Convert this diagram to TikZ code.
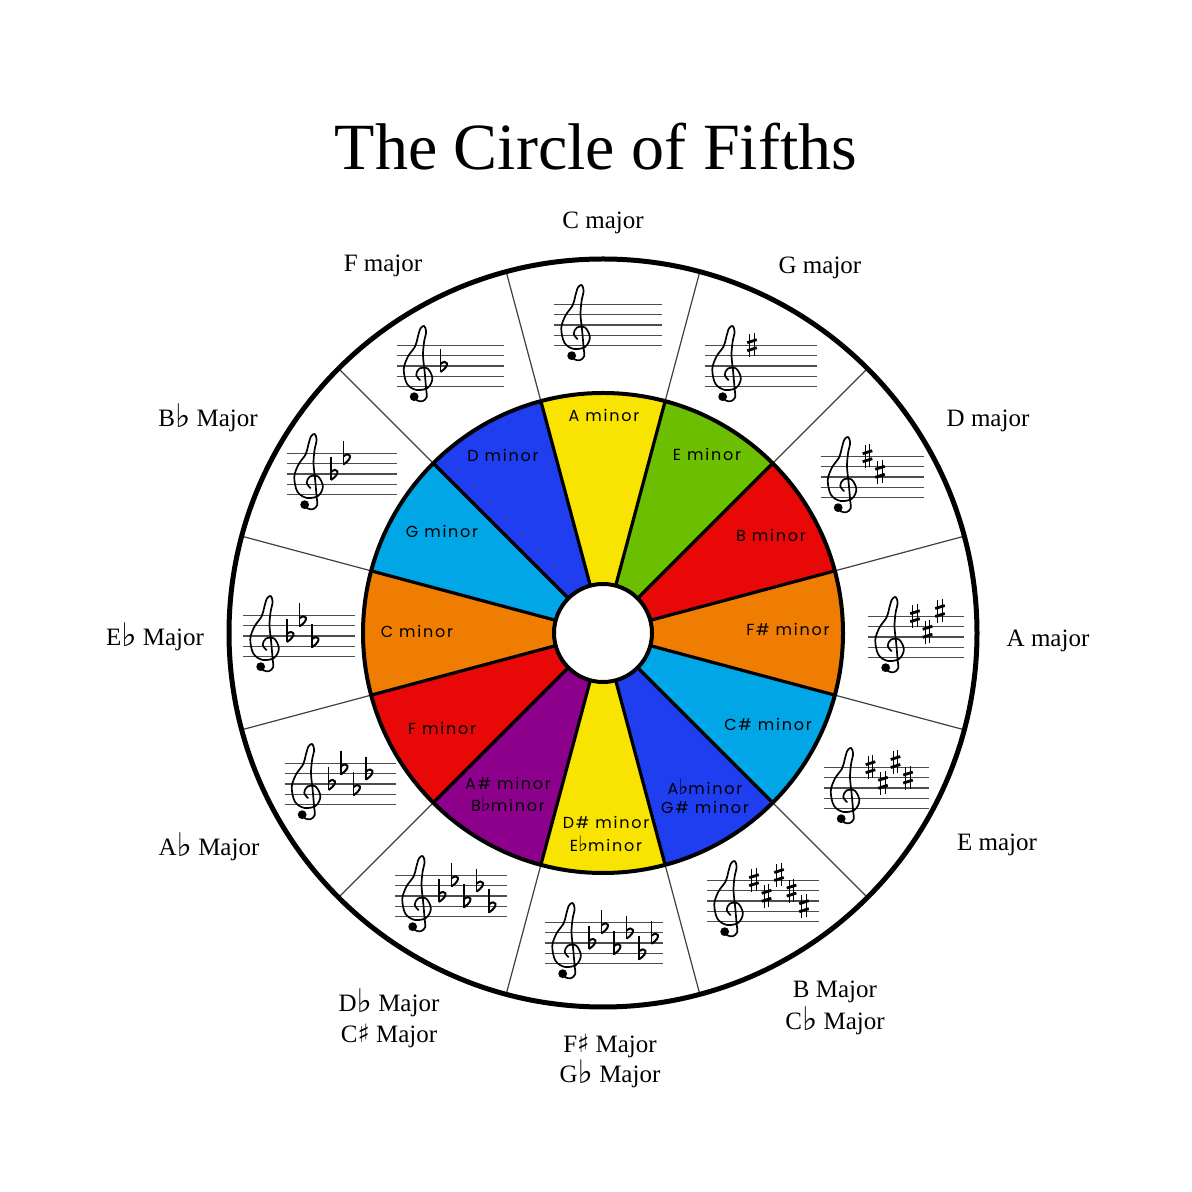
\documentclass[tikz,border=0pt]{standalone}
\usepackage{fontspec}
\setmainfont{Liberation Serif}
\newfontfamily\symserif{DejaVu Serif}
\newfontfamily\symsans{DejaVu Sans}
\newfontfamily\minorfont[LetterSpace=11]{Poppins}
\newif\ifclefglyph
\setbox0\hbox{\symserif\iffontchar\font"1D11E \global\clefglyphtrue\gdef\clefglyph{\symserif\char"1D11E}\fi}
\setbox0\hbox{\symsans\iffontchar\font"1D11E \global\clefglyphtrue\gdef\clefglyph{\symsans\char"1D11E}\fi}
\newcommand\fl{\raisebox{-0.5pt}{\scalebox{1.3}{\symserif\fontsize{25}{25}\selectfont ♭}}}
\newcommand\shp{\scalebox{1.1}{\symserif\fontsize{23}{25}\selectfont ♯}}
\newcommand\mfl{\scalebox{1.25}{\symsans\fontsize{17}{18}\selectfont ♭}}
\definecolor{cyel}{RGB}{248,228,0}
\definecolor{cgrn}{RGB}{108,190,0}
\definecolor{cred}{RGB}{232,8,8}
\definecolor{corg}{RGB}{238,125,2}
\definecolor{clbl}{RGB}{0,166,230}
\definecolor{cblu}{RGB}{30,62,240}
\definecolor{cpur}{RGB}{140,0,140}
\tikzset{
 staffline/.style={line width=1.3pt, draw=black!70},
 rayline/.style={line width=1.2pt, draw=black!75},
 divline/.style={line width=3.2pt, draw=black},
 majlab/.style={font=\fontsize{25}{28}\selectfont, anchor=base, inner sep=0},
 minlab/.style={font=\minorfont\fontsize{16}{18}\selectfont, anchor=base, inner sep=0},
 clefnode/.style={inner sep=0, anchor=south},
}
\newcommand\drawclef{%
 \begin{scope}[shift={(26,-20.8)}, x=10.4pt, y=10.4pt]
  \draw[line width=1.7pt, line cap=round, line join=round] plot[smooth, tension=0.55] coordinates {
   (-0.8,-0.95) (-0.55,-1.3) (0.0,-1.38) (0.4,-1.0) (0.35,-0.2) (0.2,1.5) (0.05,3.0)
   (0.15,4.3) (0.35,5.3) (0.15,5.85) (-0.2,5.6) (-0.45,4.8) (-0.7,3.9) (-1.4,2.9)
   (-1.8,1.7) (-1.5,0.3) (-0.6,-0.3) (0.5,-0.1) (0.95,0.8) (0.5,1.75) (-0.3,1.75)
   (-0.6,1.15) (-0.25,0.65)};
  \fill (-0.8,-0.95) circle[radius=4.4pt];
 \end{scope}}
\newcommand\clefat[1]{\ifclefglyph
  \node[clefnode] (#1clef) at (21.6,-35.5) {\resizebox{30pt}{75pt}{\clefglyph}};
  \node[clefnode] (#1clefb) at (22.6,-35.5) {\resizebox{30pt}{75pt}{\clefglyph}};
  \node[clefnode] (#1clefc) at (22.1,-34.9) {\resizebox{30pt}{75pt}{\clefglyph}};
 \else\drawclef\fi}
\newcommand\sharpat[2]{%
 \begin{scope}[shift={({47+12.5*#1},{(#2-4)*5.2})}]
  \draw[line width=1.2pt] (-2.2,-12) -- (-2.2,11);
  \draw[line width=1.2pt] (2.2,-11) -- (2.2,12);
  \draw[line width=2.8pt] (-4.8,-5.5) -- (4.8,-2.5);
  \draw[line width=2.8pt] (-4.8,2.5) -- (4.8,5.5);
 \end{scope}}
\newcommand\flatat[2]{%
 \begin{scope}[shift={({47+12.5*#1},{(#2-4)*5.2})}]
  \draw[line width=1.2pt] (-3,17) -- (-3,-6.5);
  \draw[line width=2pt] (-3,2) .. controls (3,7.5) and (8,1) .. (-3,-6);
 \end{scope}}
\newcommand\keystaff[5]{%
 \begin{scope}[shift={({#2-#4/2},{1192-#3})}]
  \foreach \k in {-2,...,2} \draw[staffline] (0,{\k*10.4}) -- (#4,{\k*10.4});
  \clefat{#1}
  #5
 \end{scope}}
\begin{document}
\begin{tikzpicture}[x=1pt,y=1pt]
\useasboundingbox (0,0) rectangle (1192,1192);
\fill[white] (0,0) rectangle (1192,1192);
\coordinate (O) at (603,559);
\begin{scope}[shift={(O)}]
 \fill[white] (0,0) circle (375);
 \foreach \a in {15,45,...,345} \draw[rayline] (\a:240) -- (\a:375);
 \foreach \i/\c in {0/cyel,1/cgrn,2/cred,3/corg,4/clbl,5/cblu,6/cyel,7/cpur,8/cred,9/corg,10/clbl,11/cblu}
  \fill[\c] (0,0) -- ({105-30*\i}:240) arc[start angle={105-30*\i}, end angle={75-30*\i}, radius=240] -- cycle;
 \foreach \a in {15,45,...,345} \draw[divline] (\a:49) -- (\a:240);
 \draw[line width=4pt] (0,0) circle (240);
 \draw[line width=4pt, fill=white] (0,0) circle (49);
 \draw[line width=5pt] (0,0) circle (374);
\end{scope}
% staves
\keystaff{C}{608}{325}{108}{}
\keystaff{G}{761}{366}{112}{\sharpat{0}{8}}
\keystaff{D}{872}{477}{103}{\sharpat{0}{8}\sharpat{1}{5}}
\keystaff{A}{916}{637}{96}{\sharpat{0}{8}\sharpat{1}{5}\sharpat{2}{9}}
\keystaff{E}{876}{788}{105}{\sharpat{0}{8}\sharpat{1}{5}\sharpat{2}{9}\sharpat{3}{6}}
\keystaff{B}{763}{901}{112}{\sharpat{0}{8}\sharpat{1}{5}\sharpat{2}{9}\sharpat{3}{6}\sharpat{4}{3}}
\keystaff{Gb}{604}{943}{118}{\flatat{0}{4}\flatat{1}{7}\flatat{2}{3}\flatat{3}{6}\flatat{4}{2}\flatat{5}{5}}
\keystaff{Db}{451}{896}{112}{\flatat{0}{4}\flatat{1}{7}\flatat{2}{3}\flatat{3}{6}\flatat{4}{2}}
\keystaff{Ab}{340}{784}{111}{\flatat{0}{4}\flatat{1}{7}\flatat{2}{3}\flatat{3}{6}}
\keystaff{Eb}{299}{636}{112}{\flatat{0}{4}\flatat{1}{7}\flatat{2}{3}}
\keystaff{Bb}{342}{474}{110}{\flatat{0}{4}\flatat{1}{7}}
\keystaff{F}{450}{366}{107}{\flatat{0}{4}}
% title
\node[font=\fontsize{66}{70}\selectfont, inner sep=0] (title) at (596,1045) {The Circle of Fifths};
% major labels
\node[majlab] (lC) at (603,963) {C major};
\node[majlab] (lG) at (820,918) {G major};
\node[majlab] (lD) at (988,765) {D major};
\node[majlab] (lA) at (1048,545) {A major};
\node[majlab] (lE) at (997,341) {E major};
\node[majlab] (lB) at (835,194) {B Major};
\node[majlab] (lCb) at (835,162) {C\fl\ Major};
\node[majlab] (lFs) at (610,139) {F\shp\ Major};
\node[majlab] (lGb) at (610,109) {G\fl\ Major};
\node[majlab] (lDb) at (389,180) {D\fl\ Major};
\node[majlab] (lCs) at (389,149) {C\shp\ Major};
\node[majlab] (lAb) at (209,336) {A\fl\ Major};
\node[majlab] (lEb) at (155,546) {E\fl\ Major};
\node[majlab] (lBb) at (208,765) {B\fl\ Major};
\node[majlab] (lF) at (383,920) {F major};
% minor labels
\node[minlab] (mA) at (604,770) {A minor};
\node[minlab] (mE) at (707,731) {E minor};
\node[minlab] (mB) at (771,650) {B minor};
\node[minlab] (mFs) at (788,556) {F\# minor};
\node[minlab] (mCs) at (768,461) {C\# minor};
\node[minlab] (mAb) at (705,397) {A\mfl minor};
\node[minlab] (mGs) at (705,378) {G\# minor};
\node[minlab] (mDs) at (606,363) {D\# minor};
\node[minlab] (mEb) at (606,340) {E\mfl minor};
\node[minlab] (mAs) at (508,402) {A\# minor};
\node[minlab] (mBb) at (508,380) {B\mfl minor};
\node[minlab] (mF) at (442,457) {F minor};
\node[minlab] (mC) at (417,554) {C minor};
\node[minlab] (mG) at (442,654) {G minor};
\node[minlab] (mD) at (503,730) {D minor};
\end{tikzpicture}
\end{document}
